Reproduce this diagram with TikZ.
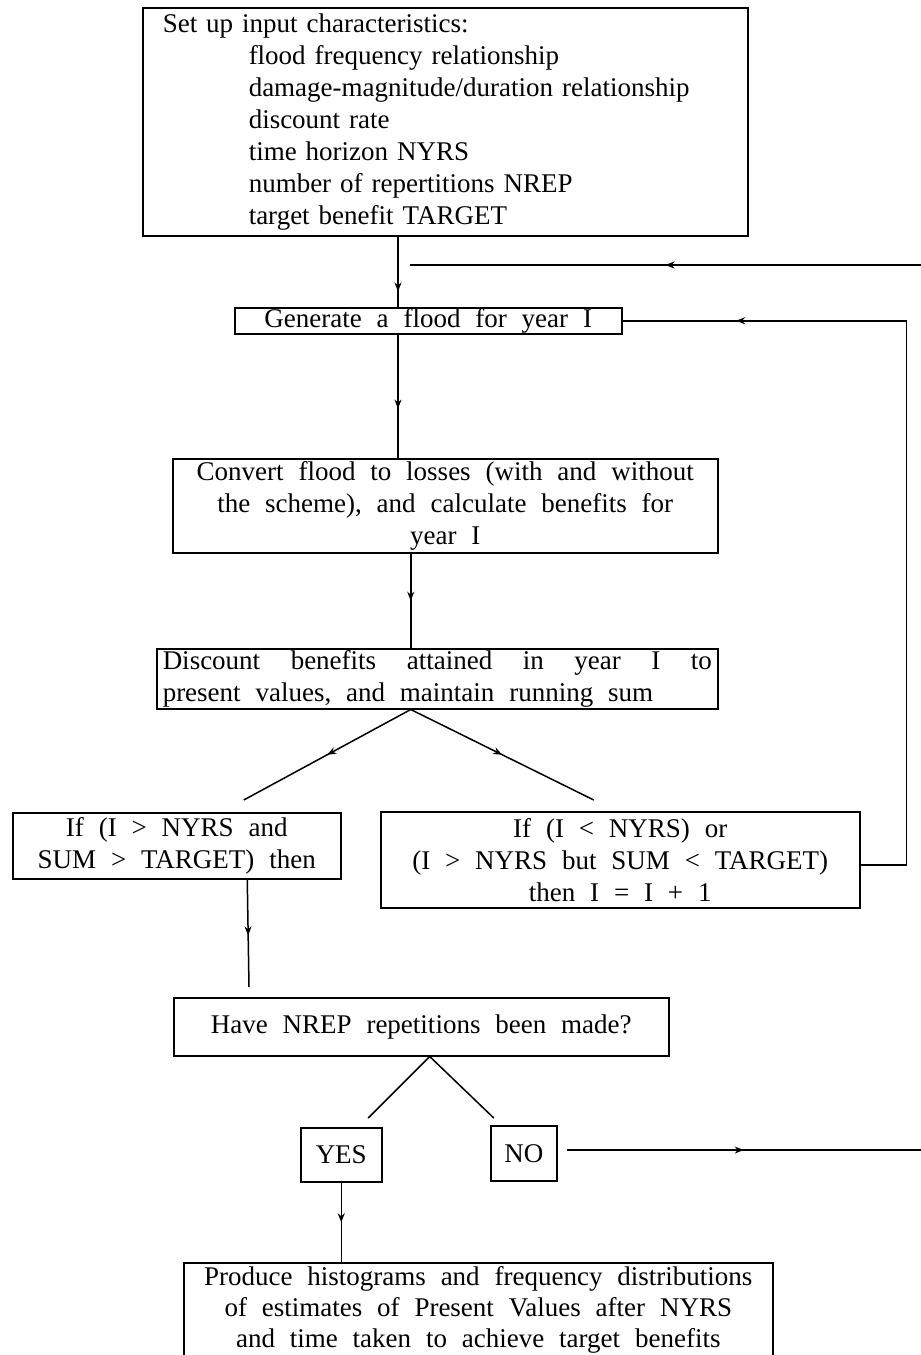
\documentclass[tikz,border=0pt]{standalone}
\usepackage{fontspec}
\setmainfont{Liberation Serif}[WordSpace=2.2]
\usetikzlibrary{arrows.meta, decorations.markings}

\begin{document}
\begin{tikzpicture}[x=1pt, y=-1pt,
  box/.style={rectangle, draw, line width=1.5pt, anchor=north west, inner sep=0pt,
              font=\fontsize{27}{32}\selectfont, align=center},
  flow/.style={line width=1.5pt, postaction={decorate},
               decoration={markings, mark=at position #1 with {\arrow{Stealth[length=9pt,width=7pt]}}}},
  flow/.default=0.5,
  plain/.style={line width=1.5pt}
]
\useasboundingbox (0,0) rectangle (921,1355);

% boxes
\node[box, minimum width=605, minimum height=228, align=left, text width=565] (setup) at (142,7)
  {Set up input characteristics:\\
   \hspace*{86pt}flood frequency relationship\\
   \hspace*{86pt}damage-magnitude/duration relationship\\
   \hspace*{86pt}discount rate\\
   \hspace*{86pt}time horizon NYRS\\
   \hspace*{86pt}number of repertitions NREP\\
   \hspace*{86pt}target benefit TARGET};
\node[box, minimum width=387, minimum height=26] (gen) at (234,307) {Generate a flood for year I};
\node[box, minimum width=545, minimum height=94] (conv) at (172,458)
  {Convert flood to losses (with and without\\ the scheme), and calculate benefits for\\ year I};
\node[box, minimum width=561, minimum height=60, align=justify, text width=549] (disc) at (156,648)
  {Discount benefits attained in year I to\linebreak present values, and maintain running sum};
\node[box, minimum width=328, minimum height=66] (lif) at (12,812)
  {If (I > NYRS and\\ SUM > TARGET) then};
\node[box, minimum width=479, minimum height=96] (rif) at (380,811)
  {If (I < NYRS) or\\ (I > NYRS but SUM < TARGET)\\ then I = I + 1};
\node[box, minimum width=495, minimum height=58] (nrep) at (173,997) {Have NREP repetitions been made?};
\node[box, minimum width=81, minimum height=54] (yes) at (300,1127) {YES};
\node[box, minimum width=66, minimum height=55] (no) at (490,1125) {NO};
\node[box, minimum width=589, minimum height=100, inner ysep=4pt, font=\fontsize{27}{31}\selectfont] (hist) at (183,1262)
  {Produce histograms and frequency distributions\\ of estimates of Present Values after NYRS\\ and time taken to achieve target benefits\\[2pt]};

% free ends
\coordinate (spine) at (398,0);
\coordinate (backin) at (921,265);
\coordinate (backend) at (410,265);
\coordinate (noout) at (921,1150);
\coordinate (lifdown) at (249,987);

% connectors
\draw[flow=0.78] (setup.south -| spine) -- (gen.north -| spine);
\draw[flow=0.5] (backin) -- (backend);
\draw[flow=0.6] (gen.south -| spine) -- (conv.north -| spine);
\draw[flow=0.5] ([xshift=-34.5pt]conv.south) -- ([xshift=-26.5pt]disc.north);
\draw[flow] ([xshift=-26.5pt]disc.south) -- ([xshift=67pt,yshift=12pt]lif.north);
\draw[flow] ([xshift=-26.5pt]disc.south) -- ([xshift=-26.5pt,yshift=11pt]rif.north);
\draw[flow=0.87] ([yshift=-5pt]rif.east) -- ++(46,0) |- (gen.east);
\draw[flow=0.52] ([xshift=70.5pt]lif.south) -- (lifdown);
\draw[plain] ([xshift=8.5pt]nrep.south) -- ([xshift=27pt,yshift=9pt]yes.north);
\draw[plain] ([xshift=8.5pt]nrep.south) -- ([xshift=-30pt,yshift=7pt]no.north);
\draw[flow=0.5] ([xshift=9pt]no.east |- noout) -- (noout);
\draw[flow=0.5] (yes.south) -- (yes.south |- hist.north);
\end{tikzpicture}
\end{document}
